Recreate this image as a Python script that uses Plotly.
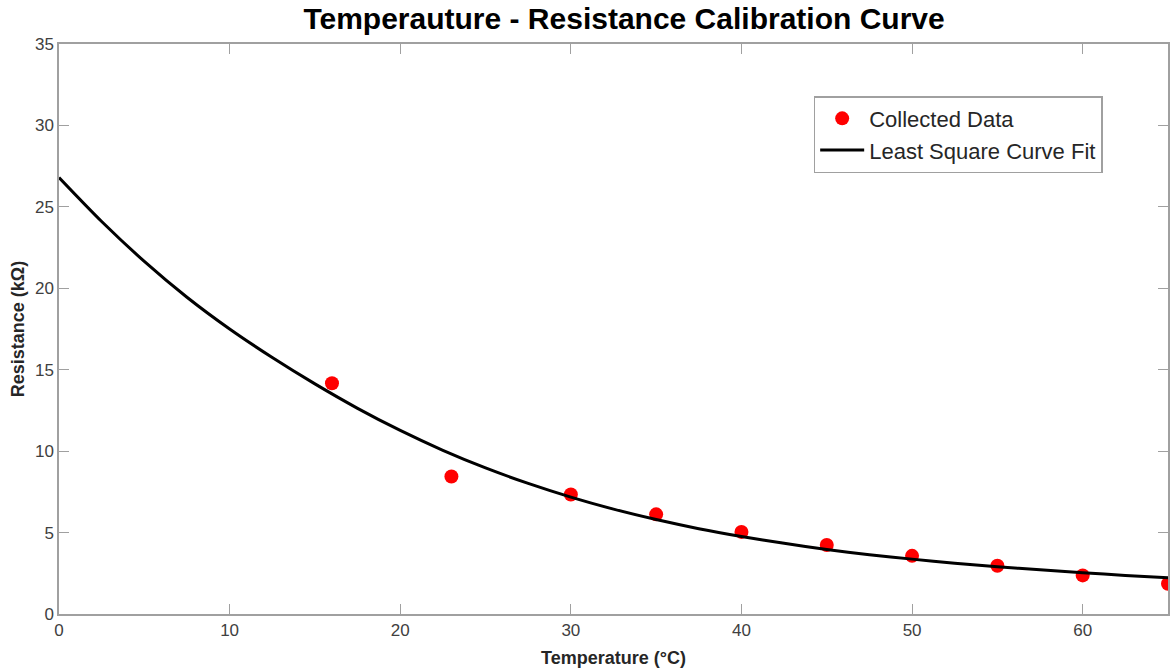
import plotly.graph_objects as go

# Collected data
temp_data = [16, 23, 30, 35, 40, 45, 50, 55, 60, 65]
res_data = [14.17, 8.44, 7.34, 6.12, 5.04, 4.24, 3.57, 2.96, 2.37, 1.86]

# Least square curve fit, every 2.5 °C
temp_fit = [0, 2.5, 5, 7.5, 10, 12.5, 15, 17.5, 20, 22.5, 25, 27.5, 30, 32.5,
            35, 37.5, 40, 42.5, 45, 47.5, 50, 52.5, 55, 57.5, 60, 62.5, 65]
res_fit = [26.8, 24.1, 21.65, 19.45, 17.5, 15.75, 14.13, 12.63, 11.27, 10.05,
           8.97, 8.02, 7.18, 6.44, 5.8, 5.24, 4.76, 4.34, 3.96, 3.64, 3.37,
           3.12, 2.9, 2.71, 2.54, 2.37, 2.22]

x_ticks = [0, 10, 20, 30, 40, 50, 60]
y_ticks = [0, 5, 10, 15, 20, 25, 30, 35]

FONT = "Liberation Sans, Arial, Helvetica, sans-serif"
AXIS_GRAY = "#a0a0a0"
TICK_TEXT = "#404040"

fig = go.Figure()
fig.add_trace(go.Scatter(
    x=temp_data, y=res_data, mode="markers", name="Collected Data",
    marker=dict(color="#ff0000", size=14, line=dict(width=0)),
))
fig.add_trace(go.Scatter(
    x=temp_fit, y=res_fit, mode="lines", name="Least Square Curve Fit",
    line=dict(color="black", width=3, shape="spline", smoothing=0.8),
))

axis_common = dict(
    showgrid=False, zeroline=False, showline=True, linecolor=AXIS_GRAY, linewidth=1.5,
    mirror="ticks", ticks="inside", ticklen=10, tickwidth=1, tickcolor=AXIS_GRAY,
    tickfont=dict(family=FONT, size=17, color=TICK_TEXT),
)

fig.update_layout(
    width=1170, height=670,
    margin=dict(l=59, r=0, t=44, b=56),
    paper_bgcolor="white", plot_bgcolor="white",
    font=dict(family=FONT),
    title=dict(
        text="<b>Temperauture - Resistance Calibration Curve</b>",
        font=dict(family=FONT, size=30, color="black"),
        x=0.5095, xref="paper", xanchor="center",
        y=0.973, yref="container", yanchor="middle",
    ),
    xaxis=dict(
        range=[0, 65], tickvals=x_ticks, ticktext=[str(v) for v in x_ticks],
        title=dict(text="<b>Temperature (°C)</b>", font=dict(family=FONT, size=18, color="#262626"), standoff=12),
        **axis_common,
    ),
    yaxis=dict(
        range=[0, 35], tickvals=y_ticks, ticktext=[str(v) for v in y_ticks],
        title=dict(text="<b>Resistance (kΩ)</b>", font=dict(family=FONT, size=18, color="#262626"), standoff=6),
        **axis_common,
    ),
    legend=dict(
        x=0.6805, y=0.9087, xanchor="left", yanchor="top",
        bgcolor="white", bordercolor="#a0a0a0", borderwidth=1.5,
        font=dict(family=FONT, size=22, color="#262626"),
        tracegroupgap=0, itemsizing="trace", itemwidth=44,
    ),
    showlegend=True,
)

fig.write_html("out.html")
